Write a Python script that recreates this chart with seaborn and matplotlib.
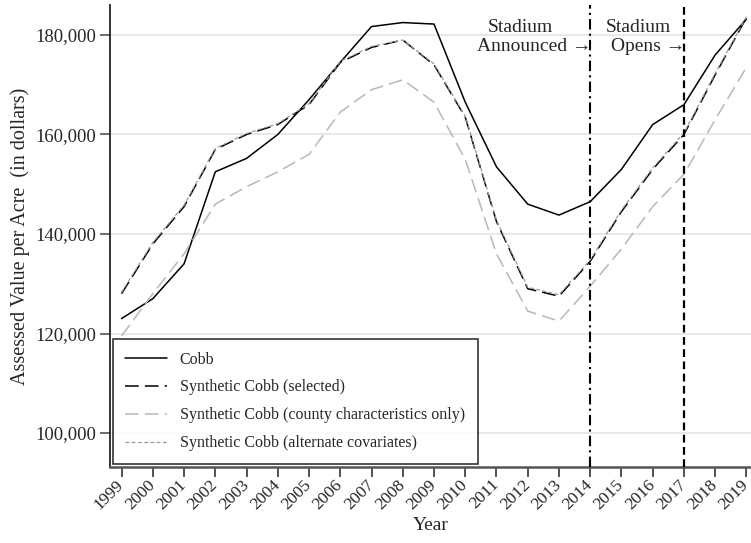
import matplotlib
matplotlib.use("Agg")
import matplotlib.pyplot as plt
from matplotlib.ticker import FuncFormatter
import numpy as np
import pandas as pd
import seaborn as sns

years = list(range(1999, 2020))

cobb = [123000, 127000, 134000, 152500, 155200, 160000, 167000, 174500, 181700, 182500,
        182200, 166500, 153500, 146000, 143800, 146500, 153000, 162000, 166000, 176000, 183200]
synth_selected = [128000, 138000, 145500, 157000, 160000, 162000, 166000, 174500, 177500, 179000,
                  174000, 163500, 142500, 129000, 127500, 134500, 144500, 153000, 160000, 172000, 183500]
synth_county = [119500, 128000, 136000, 146000, 149500, 152500, 156000, 164500, 169000, 171000,
                166500, 155000, 136000, 124500, 122500, 129500, 137000, 145500, 152000, 163000, 173500]
synth_alt = [128300, 138300, 145800, 157200, 160200, 162200, 166200, 174700, 177700, 179000,
             174200, 163700, 142800, 129300, 127800, 134800, 144800, 153300, 160300, 172300, 183700]

series_names = ["Cobb",
                "Synthetic Cobb (selected)",
                "Synthetic Cobb (county characteristics only)",
                "Synthetic Cobb (alternate covariates)"]
y_ticks = [100000, 120000, 140000, 160000, 180000]
announce_year = 2014
open_year = 2017

df = pd.DataFrame({
    "Year": years * 4,
    "Value": cobb + synth_selected + synth_county + synth_alt,
    "Series": sum([[n] * len(years) for n in series_names], []),
})

sns.set_style("white", {"xtick.bottom": True, "ytick.left": True})
plt.rcParams["font.family"] = ["Liberation Serif", "DejaVu Serif"]

fig = plt.figure(figsize=(7.51, 5.43), dpi=100)
ax = fig.add_axes([110 / 751, 1 - 467 / 543, 1 - 110 / 751 - 0.5 / 751, (467 - 5) / 543])

# horizontal reference lines
for yv in y_ticks:
    ax.axhline(yv, color="#e6e6e6", lw=1.3, zorder=0)

colors = {series_names[0]: "black", series_names[1]: "black",
          series_names[2]: "#b8b8b8", series_names[3]: "#9a9a9a"}
dashes = {series_names[0]: "", series_names[1]: (9, 4),
          series_names[2]: (9, 4), series_names[3]: (3, 2)}
widths = {series_names[0]: 1.1, series_names[1]: 1.1,
          series_names[2]: 1.1, series_names[3]: 0.9}

sns.lineplot(data=df, x="Year", y="Value", hue="Series", style="Series",
             palette=colors, dashes=dashes, hue_order=series_names,
             style_order=series_names, ax=ax, legend=False, zorder=3)
for line, name in zip(ax.get_lines()[len(y_ticks):], series_names):
    line.set_linewidth(widths[name])
    line.set_label(name)

ax.axvline(announce_year, color="black", lw=1.5, dashes=(5, 2, 1, 2), zorder=4)
ax.axvline(open_year, color="black", lw=1.6, dashes=(3.5, 2), zorder=4)

ax.set_xlim(1998.63, 2019.13)
ax.set_ylim(93166, 186030)
ax.set_xticks(years)
ax.set_xticklabels([str(y) for y in years], rotation=45, ha="right", va="center",
                   rotation_mode="anchor", fontsize=12.5)
ax.set_yticks(y_ticks)
ax.yaxis.set_major_formatter(FuncFormatter(lambda v, p: f"{int(v):,}"))
ax.tick_params(axis="y", labelsize=13.5, length=7, width=1.1, color="#444444", pad=3)
ax.tick_params(axis="x", length=7, width=1.3, color="#444444", pad=4)

for side in ["top", "right"]:
    ax.spines[side].set_visible(False)
ax.spines["left"].set_color("#222222")
ax.spines["left"].set_linewidth(1.3)
ax.spines["bottom"].set_color("#555555")
ax.spines["bottom"].set_linewidth(1.8)

ax.set_xlabel("Year", fontsize=14, labelpad=3)
ax.set_ylabel("Assessed Value per Acre  (in dollars)", fontsize=14.5, labelpad=4)

txt_kw = dict(fontsize=14, transform=ax.transData, va="center")
ax.text(2011.75, 181600, "Stadium", ha="center", **txt_kw)
ax.text(announce_year + 0.05, 177600, "Announced \u2192", ha="right", **txt_kw)
ax.text(2014.5, 181600, "Stadium", ha="left", **txt_kw)
ax.text(open_year + 0.05, 177600, "Opens \u2192", ha="right", **txt_kw)

leg = ax.legend(loc="lower left", bbox_to_anchor=(0.004, 0.006), borderaxespad=0,
                fontsize=11.5, frameon=True, fancybox=False, edgecolor="black",
                handlelength=2.6, handletextpad=0.8, labelspacing=0.75,
                borderpad=0.8)
leg.get_frame().set_linewidth(1.2)
leg.set_zorder(6)

fig.savefig("out.png", dpi=100)
